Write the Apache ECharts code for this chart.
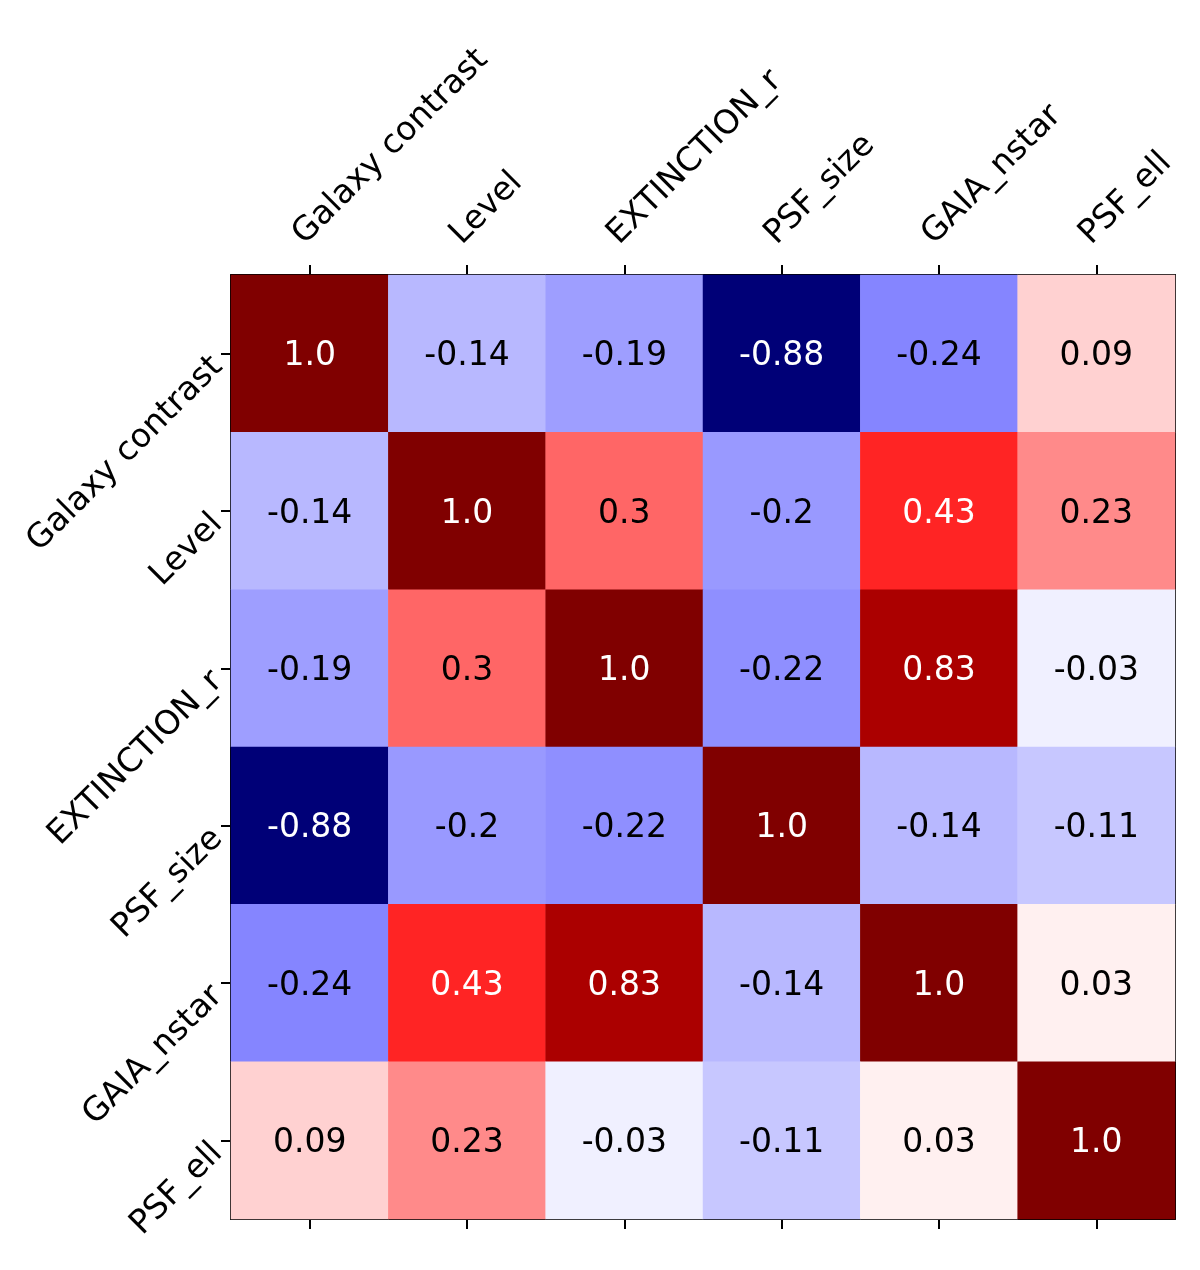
<!DOCTYPE html>
<html><head><meta charset="utf-8">
<script src="https://cdn.jsdelivr.net/npm/echarts@6/dist/echarts.min.js"></script>
<style>html,body{margin:0;padding:0;background:#fff}#c{width:1200px;height:1270px}</style>
</head><body><div id="c"></div>
<script>
const categories = ["Galaxy contrast","Level","EXTINCTION_r","PSF_size","GAIA_nstar","PSF_ell"];
const row0 = ["1.0","-0.14","-0.19","-0.88","-0.24","0.09"];
const row1 = ["-0.14","1.0","0.3","-0.2","0.43","0.23"];
const row2 = ["-0.19","0.3","1.0","-0.22","0.83","-0.03"];
const row3 = ["-0.88","-0.2","-0.22","1.0","-0.14","-0.11"];
const row4 = ["-0.24","0.43","0.83","-0.14","1.0","0.03"];
const row5 = ["0.09","0.23","-0.03","-0.11","0.03","1.0"];
const matrix = [row0,row1,row2,row3,row4,row5];

const data = [];
matrix.forEach((row, r) => row.forEach((s, c) => {
  const v = parseFloat(s);
  data.push({value:[c, r, v], label:{color: Math.abs(v) > 0.4 ? '#ffffff' : '#000000'}, txt: s});
}));

const font = 'DejaVu Sans';
const chart = echarts.init(document.getElementById('c'), null, {renderer:'canvas'});
chart.setOption({
  backgroundColor:'#ffffff',
  animation:false,
  grid:{left:231, top:275, width:944, height:944, containLabel:false},
  xAxis:[
    {type:'category', data:categories, position:'top',
     axisLine:{show:true, lineStyle:{color:'#000', width:2}},
     axisTick:{show:true, alignWithLabel:true, length:10, lineStyle:{color:'#000', width:2}},
     axisLabel:{rotate:-45, fontSize:33, color:'#000', fontFamily:font, margin:16,
       formatter: v => '{a|' + v + '}',
       rich:{a:{fontSize:33, color:'#000', fontFamily:font, padding:[0,0,44,6]}}},
     splitLine:{show:false}},
    {type:'category', data:categories, position:'bottom',
     axisLine:{show:true, lineStyle:{color:'#000', width:2}},
     axisTick:{show:true, alignWithLabel:true, length:10, lineStyle:{color:'#000', width:2}},
     axisLabel:{show:false}, splitLine:{show:false}}
  ],
  yAxis:[
    {type:'category', data:categories, inverse:true, position:'left',
     axisLine:{show:true, lineStyle:{color:'#000', width:2}},
     axisTick:{show:true, alignWithLabel:true, length:10, lineStyle:{color:'#000', width:2}},
     axisLabel:{rotate:45, fontSize:33, color:'#000', fontFamily:font, margin:16,
       formatter: v => '{a|' + v + '}',
       rich:{a:{fontSize:33, color:'#000', fontFamily:font, padding:[15,4,0,0]}}},
     splitLine:{show:false}},
    {type:'category', data:categories, inverse:true, position:'right',
     axisLine:{show:true, lineStyle:{color:'#000', width:2}},
     axisTick:{show:false}, axisLabel:{show:false}, splitLine:{show:false}}
  ],
  visualMap:{show:false, type:'continuous', min:-1, max:1, dimension:2, seriesIndex:0,
    inRange:{color:['#00004c','#0000ff','#ffffff','#ff0000','#800000']}},
  series:[{type:'heatmap', xAxisIndex:0, yAxisIndex:0, data:data,
    label:{show:true, fontSize:33, fontFamily:font, offset:[0,3],
      formatter:p => p.data.txt},
    itemStyle:{borderWidth:0},
    emphasis:{disabled:true}}]
});
</script></body></html>
